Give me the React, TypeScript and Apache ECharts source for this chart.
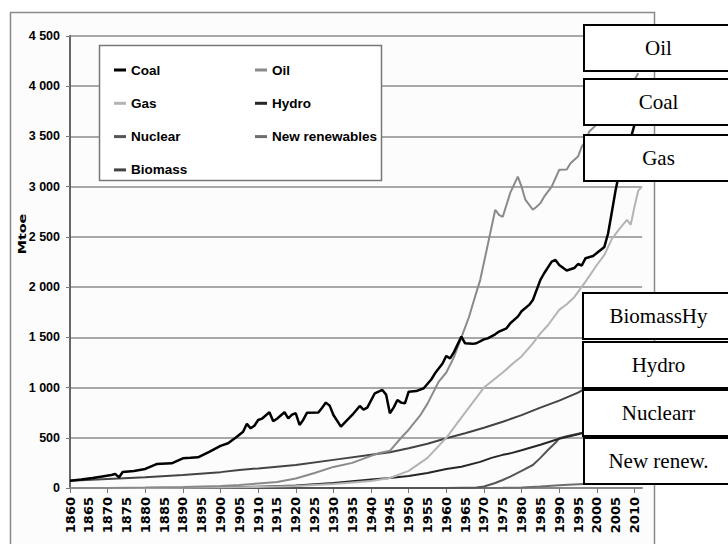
import React, { useEffect, useRef } from "react";
import * as echarts from "echarts";

// ---- Data (Mtoe) ----
const coalYears = [1860,1863,1866,1869,1871,1872,1873,1874,1877,1880,1883,1887,1890,1892,1894,1897,1900,1902,1904,1906,1907,1908,1909,1910,1911,1913,1914,1915,1917,1918,1919,1920,1921,1922,1923,1926,1927,1928,1929,1930,1932,1933,1935,1937,1938,1939,1941,1943,1944,1945,1946,1947,1948,1949,1950,1952,1954,1956,1957,1959,1960,1961,1962,1964,1965,1967,1968,1970,1971,1973,1974,1976,1977,1979,1980,1982,1983,1985,1986,1988,1989,1990,1992,1994,1995,1996,1997,1999,2001,2002,2003,2004,2005,2006,2007,2008,2009,2010,2011];
const coalValues = [72,85,100,118,130,140,105,160,170,190,238,246,296,300,305,360,420,445,500,560,640,594,620,677,690,754,665,690,754,694,730,744,628,680,750,752,800,850,820,727,611,650,727,817,780,800,943,976,930,744,800,876,850,843,959,965,993,1080,1142,1240,1315,1290,1350,1507,1441,1435,1441,1480,1490,1530,1557,1590,1640,1706,1760,1823,1872,2072,2138,2254,2270,2220,2165,2190,2230,2215,2288,2310,2370,2400,2536,2750,2968,3150,3350,3450,3480,3615,3720];

const oilYears = [1860,1870,1880,1890,1900,1905,1910,1915,1920,1925,1930,1935,1940,1942,1945,1948,1950,1953,1955,1958,1960,1962,1964,1966,1968,1969,1971,1973,1974,1975,1977,1979,1980,1981,1983,1984,1985,1986,1988,1990,1992,1993,1995,1996,1997,1998,2000,2003,2005,2007,2008,2009,2011];
const oilValues = [0,1,4,10,20,30,45,60,95,150,210,250,320,346,370,500,580,720,840,1060,1150,1300,1500,1700,1950,2070,2420,2770,2720,2700,2940,3100,3000,2870,2770,2800,2836,2900,3000,3168,3170,3234,3300,3400,3450,3550,3620,3800,3950,4050,4070,4000,4130];

const gasYears = [1860,1880,1900,1910,1920,1930,1940,1945,1950,1955,1960,1963,1966,1968,1970,1972,1975,1978,1980,1983,1985,1987,1990,1992,1994,1997,2000,2002,2004,2006,2008,2009,2010,2011,2012];
const gasValues = [0,1,5,10,20,40,70,100,170,300,500,650,800,900,1000,1060,1150,1250,1310,1440,1540,1620,1773,1830,1900,2055,2220,2320,2480,2580,2669,2620,2800,2960,3000];

const hydroYears = [1860,1880,1890,1900,1910,1920,1930,1940,1945,1950,1955,1960,1964,1969,1972,1975,1977,1980,1985,1990,1995,1997,2000,2005,2010,2012];
const hydroValues = [0,0,2,5,12,25,50,85,100,120,150,190,212,260,300,330,345,375,430,490,535,560,580,620,680,700];

const nuclearYears = [1860,1960,1965,1968,1970,1973,1975,1977,1980,1983,1985,1987,1989,1990,1992,1995,1997,2000,2005,2010,2012];
const nuclearValues = [0,0,3,5,15,50,80,113,170,229,300,378,450,495,515,540,550,590,620,600,590];

const renewYears = [1860,1970,1975,1980,1985,1990,1995,2000,2005,2010,2012];
const renewValues = [0,0,2,5,15,28,38,48,70,110,130];

const biomassYears = [1860,1870,1880,1890,1900,1905,1910,1920,1930,1940,1945,1950,1955,1960,1965,1970,1975,1980,1985,1990,1995,1997,2000,2005,2010,2012];
const biomassValues = [72,90,108,130,158,179,195,230,280,330,355,395,440,495,545,600,660,725,800,870,950,993,1030,1080,1140,1160];

const firstYear = 1860;
const lastYear = 2012;
const yTicks = [0, 500, 1000, 1500, 2000, 2500, 3000, 3500, 4000, 4500];

const seriesNames = ["Coal", "Oil", "Gas", "Hydro", "Nuclear", "New renewables", "Biomass"];
const seriesColors = ["#000000", "#8a8a8a", "#b4b4b4", "#262626", "#555555", "#6e6e6e", "#444444"];
const seriesWidths = [2.5, 2, 2, 2, 2, 2, 2];

const boxLabels = ["Oil", "Coal", "Gas", "BiomassHy", "Hydro", "Nuclearr", "New renew."];

export default function App() {
  const ref = useRef<HTMLDivElement>(null);

  useEffect(() => {
    if (!ref.current) return;
    const chart = echarts.init(ref.current, undefined, { renderer: "svg" });

    const categories: string[] = [];
    for (let y = firstYear; y <= lastYear; y++) categories.push(String(y));

    const pairs = (ys: number[], vs: number[]) => ys.map((y, i) => [String(y), vs[i]]);
    const allData = [
      pairs(coalYears, coalValues),
      pairs(oilYears, oilValues),
      pairs(gasYears, gasValues),
      pairs(hydroYears, hydroValues),
      pairs(nuclearYears, nuclearValues),
      pairs(renewYears, renewValues),
      pairs(biomassYears, biomassValues),
    ];

    const fmtY = (v: number) =>
      v >= 1000 ? `${Math.floor(v / 1000)} ${String(v % 1000).padStart(3, "0")}` : String(v);

    // annotation boxes layout (pixels)
    const boxTops = [25, 79, 135, 293, 342, 390, 438];
    const boxLefts = [584, 584, 584, 583, 583, 583, 584];
    const boxH = 46;
    const boxW = 150;

    const boxEls: any[] = [];
    boxLabels.forEach((label, i) => {
      boxEls.push({
        type: "rect",
        z: 20,
        shape: { x: boxLefts[i], y: boxTops[i], width: boxW, height: boxH },
        style: { fill: "#ffffff", stroke: "#000000", lineWidth: 2 },
      });
      boxEls.push({
        type: "text",
        z: 21,
        x: 658.5,
        y: boxTops[i] + boxH / 2,
        style: {
          text: label,
          font: '21px "Liberation Serif"',
          fill: "#000000",
          align: "center",
          verticalAlign: "middle",
        },
      });
    });

    const legendText = {
      fontFamily: '"Liberation Sans", Arial, sans-serif',
      fontWeight: "bold" as const,
      fontSize: 13.5,
      color: "#000",
      lineHeight: 16,
    };

    chart.setOption({
      animation: false,
      backgroundColor: "#ffffff",
      grid: {
        left: 70,
        right: 86,
        top: 36,
        bottom: 56,
        containLabel: false,
        outerBoundsMode: "none",
      },
      legend: [
        {
          data: ["Coal", "Gas", "Nuclear", "Biomass"],
          orient: "vertical",
          left: 109,
          top: 57,
          itemGap: 17.3,
          itemWidth: 12,
          itemHeight: 3,
          icon: "rect",
          selectedMode: false,
          textStyle: legendText,
          z: 5,
        },
        {
          data: ["Oil", "Hydro", "New renewables"],
          orient: "vertical",
          left: 250,
          top: 57,
          itemGap: 17.3,
          itemWidth: 12,
          itemHeight: 3,
          icon: "rect",
          selectedMode: false,
          textStyle: legendText,
          z: 5,
        },
      ],
      xAxis: {
        type: "category",
        data: categories,
        boundaryGap: false,
        axisLine: { lineStyle: { color: "#888", width: 2 } },
        axisTick: { interval: 9, length: 5, lineStyle: { color: "#777", width: 1 } },
        axisLabel: {
          interval: 4,
          rotate: 90,
          margin: 9,
          fontFamily: '"DejaVu Sans", sans-serif',
          fontWeight: "bold",
          fontSize: 13,
          color: "#000",
        },
        splitLine: { show: false },
      },
      yAxis: {
        type: "value",
        min: yTicks[0],
        max: yTicks[yTicks.length - 1],
        interval: yTicks[1] - yTicks[0],
        axisLine: { show: true, lineStyle: { color: "#666", width: 2 } },
        axisTick: { show: true, length: 4, lineStyle: { color: "#777" } },
        axisLabel: {
          formatter: fmtY,
          margin: 10,
          fontFamily: '"Liberation Sans", Arial, sans-serif',
          fontWeight: "bold",
          fontSize: 12.5,
          color: "#000",
        },
        splitLine: { lineStyle: { color: "#8c8c8c", width: 1.6 } },
      },
      series: seriesNames.map((name, i) => ({
        name,
        type: "line",
        data: allData[i],
        showSymbol: false,
        symbol: "none",
        color: seriesColors[i],
        lineStyle: { color: seriesColors[i], width: seriesWidths[i] },
        z: 10 - i,
      })),
      graphic: [
        {
          type: "rect",
          z: -10,
          shape: { x: 10.5, y: 12.5, width: 644, height: 560 },
          style: { fill: "#fcfcfc", stroke: "#8a8a8a", lineWidth: 1.5 },
        },
        {
          type: "rect",
          z: 3,
          shape: { x: 99.5, y: 45.5, width: 282, height: 135 },
          style: { fill: "#ffffff", stroke: "#777777", lineWidth: 1.5 },
        },
        {
          type: "text",
          z: 5,
          x: 22,
          y: 234,
          rotation: Math.PI / 2,
          scaleX: 1.3,
          style: {
            text: "Mtoe",
            font: 'bold 11px "DejaVu Sans"',
            fill: "#000",
            align: "center",
            verticalAlign: "middle",
          },
        },
        ...boxEls,
      ],
    });

    return () => chart.dispose();
  }, []);

  return (
    <div
      ref={ref}
      style={{ position: "fixed", left: 0, top: 0, width: 728, height: 544 }}
    />
  );
}
